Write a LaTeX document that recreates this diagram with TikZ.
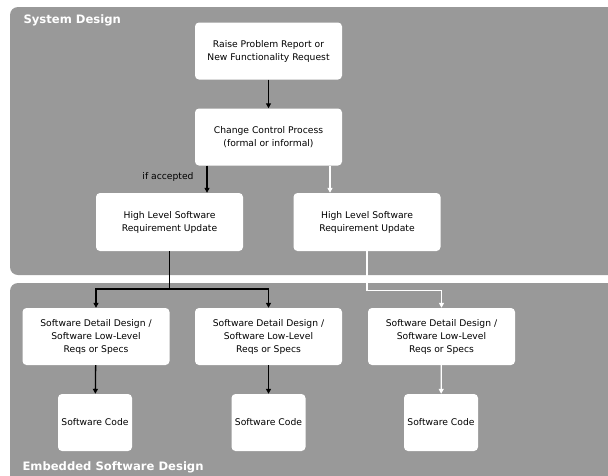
\documentclass[tikz,border=0pt]{standalone}
\usepackage{fontspec}
\setmainfont{DejaVu Sans}
\usetikzlibrary{arrows.meta}

\definecolor{panelgray}{RGB}{153,153,153}
\tikzset{
  panel/.style={fill=panelgray,rounded corners=8pt},
  stepbox/.style={fill=white,rounded corners=4pt,align=center,inner sep=0pt,
    font=\fontsize{9.2}{13}\selectfont},
  wide/.style={stepbox,minimum width=147pt,minimum height=57pt},
  code/.style={stepbox,minimum width=74pt,minimum height=57pt},
  arr/.style={line width=1.3pt,-{Triangle[length=5pt,width=5pt]}},
  warr/.style={arr,white},
  title/.style={anchor=west,text=white,font=\fontsize{11.6}{13}\selectfont\bfseries}
}

\begin{document}
\begin{tikzpicture}[x=1pt,y=-1pt]
  \clip (0,0) rectangle (608,475);
  \fill[white] (0,0) rectangle (608,475);
  % the two design areas
  \fill[panel] (10,7) rectangle (640,275);
  \fill[panel] (10,283) rectangle (640,510);
  \node[title] (sys) at (20,20) {System Design};
  \node[title] (emb) at (19,467) {Embedded Software Design};

  \node[wide] (raise) at (268.5,51) {Raise Problem Report or\\New Functionality Request};
  \node[wide] (ccp) at (268.5,137) {Change Control Process\\(formal or informal)};
  \node[wide,minimum height=58pt] (hlA) at (169.5,222) {High Level Software\\Requirement Update};
  \node[wide,minimum height=58pt] (hlB) at (367,222) {High Level Software\\Requirement Update};
  \node[wide] (sdA) at (96,336.5) {Software Detail Design /\\Software Low-Level\\Reqs or Specs};
  \node[wide] (sdB) at (268.5,336.5) {Software Detail Design /\\Software Low-Level\\Reqs or Specs};
  \node[wide] (sdC) at (441.5,336.5) {Software Detail Design /\\Software Low-Level\\Reqs or Specs};
  \node[code] (codeA) at (95,422.5) {Software Code};
  \node[code] (codeB) at (268.5,422.5) {Software Code};
  \node[code] (codeC) at (441,422.5) {Software Code};
  \node[font=\fontsize{9.2}{11}\selectfont] (acc) at (168,177) {if accepted};

  \coordinate (split) at (169.5,289);
  \draw[arr] (raise) -- (ccp);
  \draw[arr] ([xshift=-61.5pt]ccp.south) -- ([xshift=37.5pt]hlA.north);
  \draw[warr] ([xshift=61.5pt]ccp.south) -- ([xshift=-37pt]hlB.north);
  \draw[arr] (hlA.south) -- (split) -| (sdA.north);
  \draw[arr] (split) -| (sdB.north);
  \draw[warr] (hlB.south) -- ++(0,39) -| (sdC.north);
  \draw[arr] (sdA) -- (codeA);
  \draw[arr] (sdB) -- (codeB);
  \draw[warr] (sdC) -- (codeC);
\end{tikzpicture}
\end{document}
